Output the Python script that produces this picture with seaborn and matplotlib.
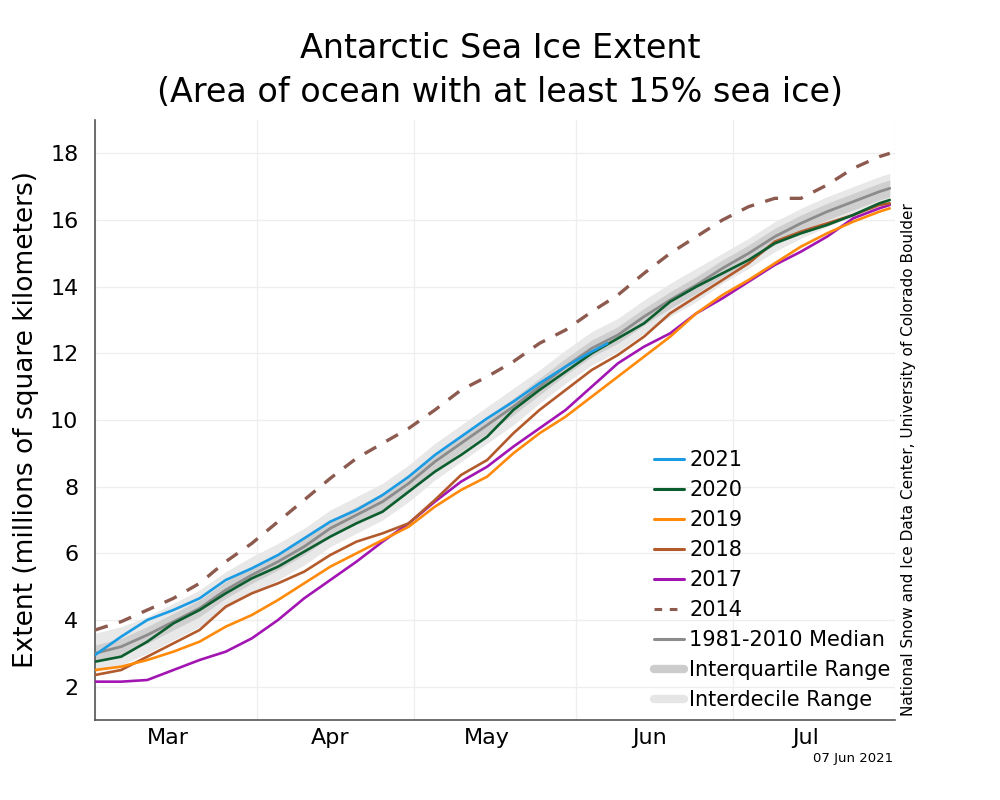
import numpy as np
import pandas as pd
import matplotlib
matplotlib.use("Agg")
import matplotlib.pyplot as plt
from matplotlib.lines import Line2D
import seaborn as sns

# ---- data (day of year, millions of km^2) ----
days = [60, 65, 70, 75, 80, 85, 90, 95, 100, 105, 110, 115, 120, 125, 130, 135,
        140, 145, 150, 155, 160, 165, 170, 175, 180, 185, 190, 195, 200, 205, 210, 212]

days_2021 = [60, 65, 70, 75, 80, 85, 90, 95, 100, 105, 110, 115, 120, 125, 130, 135,
             140, 145, 150, 155, 158]
y2021 = [2.95, 3.5, 4.0, 4.3, 4.65, 5.2, 5.55, 5.95, 6.45, 6.95, 7.3, 7.75, 8.3, 8.95,
         9.5, 10.05, 10.55, 11.1, 11.6, 12.05, 12.3]

y2020 = [2.75, 2.9, 3.35, 3.9, 4.3, 4.8, 5.25, 5.6, 6.05, 6.5, 6.9, 7.25, 7.85, 8.45,
         8.95, 9.5, 10.3, 10.9, 11.45, 12.0, 12.45, 12.9, 13.55, 14.0, 14.4, 14.8,
         15.3, 15.6, 15.85, 16.15, 16.5, 16.6]
y2019 = [2.5, 2.6, 2.8, 3.05, 3.35, 3.8, 4.15, 4.6, 5.1, 5.6, 6.0, 6.4, 6.8, 7.4,
         7.9, 8.3, 9.0, 9.6, 10.1, 10.7, 11.3, 11.9, 12.5, 13.2, 13.75, 14.2, 14.7,
         15.2, 15.6, 15.95, 16.25, 16.35]
y2018 = [2.35, 2.5, 2.9, 3.3, 3.7, 4.4, 4.8, 5.1, 5.45, 5.95, 6.35, 6.6, 6.9, 7.6,
         8.35, 8.8, 9.6, 10.3, 10.9, 11.5, 11.95, 12.5, 13.2, 13.7, 14.2, 14.7,
         15.35, 15.65, 15.9, 16.15, 16.45, 16.5]
y2017 = [2.15, 2.15, 2.2, 2.5, 2.8, 3.05, 3.45, 4.0, 4.65, 5.2, 5.75, 6.35, 6.9, 7.55,
         8.15, 8.6, 9.2, 9.75, 10.3, 11.0, 11.7, 12.2, 12.6, 13.2, 13.65, 14.15,
         14.65, 15.05, 15.5, 16.05, 16.35, 16.45]
y2014 = [3.7, 3.95, 4.3, 4.65, 5.1, 5.75, 6.3, 6.95, 7.6, 8.25, 8.85, 9.3, 9.75, 10.3,
         10.9, 11.3, 11.75, 12.3, 12.7, 13.25, 13.75, 14.4, 15.0, 15.5, 16.0, 16.4,
         16.65, 16.65, 17.05, 17.55, 17.9, 18.0]
median = [3.0, 3.2, 3.55, 3.95, 4.35, 4.9, 5.35, 5.75, 6.2, 6.75, 7.15, 7.55, 8.1, 8.75,
          9.3, 9.85, 10.4, 11.0, 11.6, 12.15, 12.55, 13.1, 13.6, 14.05, 14.55, 15.0,
          15.5, 15.9, 16.25, 16.55, 16.85, 16.95]
p25 = [2.75, 2.95, 3.3, 3.7, 4.1, 4.65, 5.1, 5.5, 5.95, 6.5, 6.9, 7.3, 7.85, 8.5,
       9.05, 9.6, 10.15, 10.75, 11.35, 11.9, 12.3, 12.85, 13.35, 13.8, 14.3, 14.75,
       15.25, 15.65, 16.0, 16.3, 16.6, 16.7]
p75 = [3.25, 3.45, 3.8, 4.2, 4.6, 5.15, 5.6, 6.0, 6.45, 7.0, 7.4, 7.8, 8.35, 9.0,
       9.55, 10.1, 10.65, 11.25, 11.85, 12.4, 12.8, 13.35, 13.85, 14.3, 14.8, 15.25,
       15.75, 16.15, 16.5, 16.8, 17.1, 17.2]
p10 = [2.45, 2.65, 3.0, 3.4, 3.8, 4.35, 4.8, 5.2, 5.65, 6.2, 6.6, 7.0, 7.55, 8.2,
       8.75, 9.3, 9.85, 10.5, 11.1, 11.65, 12.05, 12.6, 13.1, 13.55, 14.1, 14.55,
       15.05, 15.45, 15.8, 16.1, 16.4, 16.5]
p90 = [3.6, 3.8, 4.1, 4.5, 4.9, 5.45, 5.9, 6.3, 6.75, 7.3, 7.7, 8.1, 8.65, 9.3,
       9.85, 10.4, 10.95, 11.5, 12.1, 12.65, 13.05, 13.6, 14.1, 14.55, 15.0, 15.45,
       15.95, 16.35, 16.7, 17.0, 17.3, 17.4]

month_edges = [60, 91, 121, 152, 182, 213]
month_mids = [74, 105, 135, 166, 196]
month_labels = ["Mar", "Apr", "May", "Jun", "Jul"]
yticks = [2, 4, 6, 8, 10, 12, 14, 16, 18]

series = [
    ("2021", days_2021, y2021, "#1b9be3", "-"),
    ("2020", days, y2020, "#0c5d2e", "-"),
    ("2019", days, y2019, "#ff8a0a", "-"),
    ("2018", days, y2018, "#b35a2c", "-"),
    ("2017", days, y2017, "#a215b3", "-"),
    ("2014", days, y2014, "#8d5a4f", "--"),
]

# ---- plot ----
sns.set_theme(style="white")
plt.rcParams['font.family'] = ['DejaVu Sans']
plt.rcParams['text.color'] = 'black'
plt.rcParams['axes.labelcolor'] = 'black'
plt.rcParams['xtick.color'] = 'black'
plt.rcParams['ytick.color'] = 'black'

fig = plt.figure(figsize=(10, 8), dpi=100)
ax = fig.add_axes([0.095, 0.10, 0.80, 0.75])

ax.fill_between(days, p10, p90, color="#e8e8e8", linewidth=0, zorder=1)
ax.fill_between(days, p25, p75, color="#cfcfcf", linewidth=0, zorder=2)
sns.lineplot(x=days, y=median, ax=ax, color="#8c8c8c", linewidth=2.0, zorder=3)

for name, xs, ys, col, ls in series[::-1]:
    df = pd.DataFrame({"day": xs, "extent": ys})
    if ls == "--":
        sns.lineplot(data=df, x="day", y="extent", ax=ax, color=col, linewidth=2.4,
                     zorder=4).lines[-1].set_dashes([4, 3.5])
    else:
        sns.lineplot(data=df, x="day", y="extent", ax=ax, color=col, linewidth=1.9,
                     zorder=5)

ax.set_xlim(60, 212)
ax.set_ylim(1, 19)
ax.set_xticks(month_edges)
ax.set_xticklabels([""] * len(month_edges))
ax.set_xticks(month_mids, minor=True)
ax.set_xticklabels(month_labels, minor=True, fontsize=16)
ax.tick_params(axis="x", which="major", direction="in", length=5, color="#555555", width=1)
ax.tick_params(axis="x", which="minor", length=0, pad=6)
ax.set_yticks(yticks)
ax.set_yticklabels([str(v) for v in yticks], fontsize=16)
ax.tick_params(axis="y", length=0, pad=12)

ax.grid(True, which="major", color="#eeeeee", linewidth=0.9)
ax.set_axisbelow(True)
for s in ["top", "right"]:
    ax.spines[s].set_visible(False)
for s in ["left", "bottom"]:
    ax.spines[s].set_color("#555555")
    ax.spines[s].set_linewidth(1.2)

ax.set_xlabel("")
ax.set_ylabel("Extent (millions of square kilometers)", fontsize=19, labelpad=8)

fig.text(0.5, 0.94, "Antarctic Sea Ice Extent", ha="center", va="center", fontsize=24)
fig.text(0.5, 0.885, "(Area of ocean with at least 15% sea ice)", ha="center", va="center",
         fontsize=24)
fig.text(0.909, 0.425, "National Snow and Ice Data Center, University of Colorado Boulder",
         rotation=90, ha="center", va="center", fontsize=11)
fig.text(0.893, 0.052, "07 Jun 2021", ha="right", va="center", fontsize=9.5)

handles = []
for name, xs, ys, col, ls in series:
    h = Line2D([], [], color=col, linewidth=2.2)
    if ls == "--":
        h.set_dashes([2.5, 2.5])
    handles.append(h)
labels = [s[0] for s in series]
handles += [Line2D([], [], color="#8c8c8c", linewidth=2.2),
            Line2D([], [], color="#cccccc", linewidth=6),
            Line2D([], [], color="#e6e6e6", linewidth=6)]
labels += ["1981-2010 Median", "Interquartile Range", "Interdecile Range"]
ax.legend(handles, labels, loc="upper left", bbox_to_anchor=(0.654, 0.437),
          bbox_transform=fig.transFigure, frameon=False, fontsize=15,
          handlelength=1.45, handletextpad=0.25, labelspacing=0.48, borderpad=0,
          borderaxespad=0)

fig.savefig("out.png", dpi=100)
